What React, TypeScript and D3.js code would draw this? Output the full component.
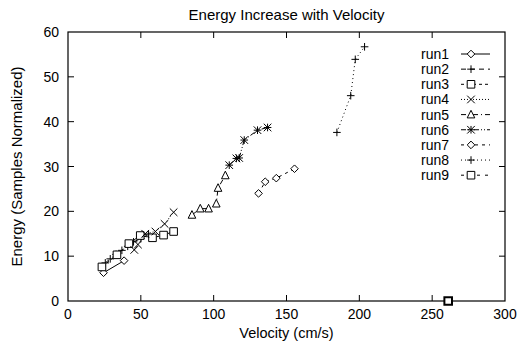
import React from 'react';
import * as d3 from 'd3';

// velocity (cm/s), energy (samples normalized)
const run1: [number, number][] = [[24.4, 6.3], [38.5, 9.0]];
const run2: [number, number][] = [[25.6, 8.5], [29, 9.4], [33, 10.4], [37, 11.3], [41, 12.2], [45, 13.2], [50, 13.9], [55.3, 14.9]];
const run3: [number, number][] = [[23.3, 7.6], [33.6, 10.3], [41.8, 12.8], [49.6, 14.6], [58, 14.1], [65.6, 14.7], [72.5, 15.5]];
const run4: [number, number][] = [[45.5, 11.4], [48, 12.6], [53, 15.0], [60, 15.5], [66.3, 17.2], [72.5, 19.8]];
const run5: [number, number][] = [[85.1, 19.2], [90.8, 20.6], [96.5, 20.6], [101.8, 21.7], [103, 25.2], [108, 28.0]];
const run6: [number, number][] = [[110.7, 30.3], [115.6, 31.8], [117.5, 31.9], [121, 35.9], [130.1, 38.1], [137, 38.7]];
const run7: [number, number][] = [[130.8, 24.0], [135.4, 26.6], [143, 27.4], [155.5, 29.5]];
const run8: [number, number][] = [[184.6, 37.6], [194.1, 45.8], [197.2, 53.9], [203.6, 56.7]];
const run9: [number, number][] = [[261, 0]];

const runNames = ['run1', 'run2', 'run3', 'run4', 'run5', 'run6', 'run7', 'run8', 'run9'];
const runData = [run1, run2, run3, run4, run5, run6, run7, run8, run9];
const markers = ['diamond', 'plus', 'square', 'x', 'triangle', 'star', 'diamond', 'plus', 'square'];
const dashes = ['', '5,4', '3,3', '1,2', '5,3,1,3', '5,2,1,2,1,2', '3,4', '1,3', '3,5'];

const xTicks = [0, 50, 100, 150, 200, 250, 300];
const yTicks = [0, 10, 20, 30, 40, 50, 60];

const W = 520;
const H = 341;
const m = { left: 68, right: 505, top: 32, bottom: 301 };
const font = '"Liberation Sans", Arial, sans-serif';

function markerPath(type: string, x: number, y: number): string {
  const r = 3.8;
  switch (type) {
    case 'diamond':
      return `M${x},${y - r}L${x + r},${y}L${x},${y + r}L${x - r},${y}Z`;
    case 'square':
      return `M${x - r},${y - r}h${2 * r}v${2 * r}h${-2 * r}Z`;
    case 'triangle':
      return `M${x},${y - r - 0.5}L${x + r},${y + r - 0.5}L${x - r},${y + r - 0.5}Z`;
    case 'plus':
      return `M${x - r},${y}h${2 * r}M${x},${y - r}v${2 * r}`;
    case 'x':
      return `M${x - r},${y - r}L${x + r},${y + r}M${x - r},${y + r}L${x + r},${y - r}`;
    case 'star':
      return `M${x - r},${y}h${2 * r}M${x},${y - r}v${2 * r}M${x - r},${y - r}L${x + r},${y + r}M${x - r},${y + r}L${x + r},${y - r}`;
    default:
      return '';
  }
}

const hollow = (t: string) => (t === 'diamond' || t === 'square' || t === 'triangle' ? '#fff' : 'none');

export default function App() {
  const x = d3.scaleLinear().domain([0, 300]).range([m.left, m.right]);
  const y = d3.scaleLinear().domain([0, 60]).range([m.bottom, m.top]);
  const line = d3
    .line<[number, number]>()
    .x((d) => x(d[0]))
    .y((d) => y(d[1]));

  const legendY0 = 54;
  const legendStep = 15.15;

  return (
    <svg width={W} height={H} style={{ position: 'absolute', left: 0, top: 0, background: '#fff' }} fontFamily={font}>
      <rect x={0} y={0} width={W} height={H} fill="#fff" />
      <text x={(m.left + m.right) / 2} y={20} textAnchor="middle" fontSize={15}>
        Energy Increase with Velocity
      </text>

      {/* axis frame with mirrored ticks */}
      <rect x={m.left} y={m.top} width={m.right - m.left} height={m.bottom - m.top} fill="none" stroke="#000" strokeWidth={1.2} />
      {xTicks.map((t) => (
        <g key={'x' + t}>
          {t > 0 && t < 300 && (
            <>
              <line x1={x(t)} x2={x(t)} y1={m.bottom} y2={m.bottom - 6} stroke="#000" />
              <line x1={x(t)} x2={x(t)} y1={m.top} y2={m.top + 6} stroke="#000" />
            </>
          )}
          <text x={x(t)} y={319} textAnchor="middle" fontSize={14}>
            {t}
          </text>
        </g>
      ))}
      {yTicks.map((t) => (
        <g key={'y' + t}>
          {t > 0 && t < 60 && (
            <>
              <line x1={m.left} x2={m.left + 6} y1={y(t)} y2={y(t)} stroke="#000" />
              <line x1={m.right} x2={m.right - 6} y1={y(t)} y2={y(t)} stroke="#000" />
            </>
          )}
          <text x={59} y={y(t) + 5} textAnchor="end" fontSize={14}>
            {t}
          </text>
        </g>
      ))}
      <text x={(m.left + m.right) / 2} y={338} textAnchor="middle" fontSize={14.5}>
        Velocity (cm/s)
      </text>
      <text transform={`translate(22,${(m.top + m.bottom) / 2}) rotate(-90)`} textAnchor="middle" fontSize={15}>
        Energy (Samples Normalized)
      </text>

      {/* series */}
      {runData.map((pts, i) => (
        <g key={runNames[i]}>
          <path d={line(pts) || ''} fill="none" stroke="#000" strokeWidth={1} strokeDasharray={dashes[i]} />
          {pts.map((p, j) => (
            <path
              key={j}
              d={markerPath(markers[i], x(p[0]), y(p[1]))}
              fill={hollow(markers[i])}
              stroke="#000"
              strokeWidth={i === 8 ? 2 : 1}
            />
          ))}
        </g>
      ))}

      {/* legend */}
      {runNames.map((name, i) => {
        const ly = legendY0 + i * legendStep;
        return (
          <g key={'lg' + name}>
            <text x={421} y={ly + 5} fontSize={14}>
              {name}
            </text>
            <line x1={461} x2={490} y1={ly} y2={ly} stroke="#000" strokeDasharray={dashes[i]} />
            <path d={markerPath(markers[i], 471, ly)} fill={hollow(markers[i])} stroke="#000" />
          </g>
        );
      })}
    </svg>
  );
}
